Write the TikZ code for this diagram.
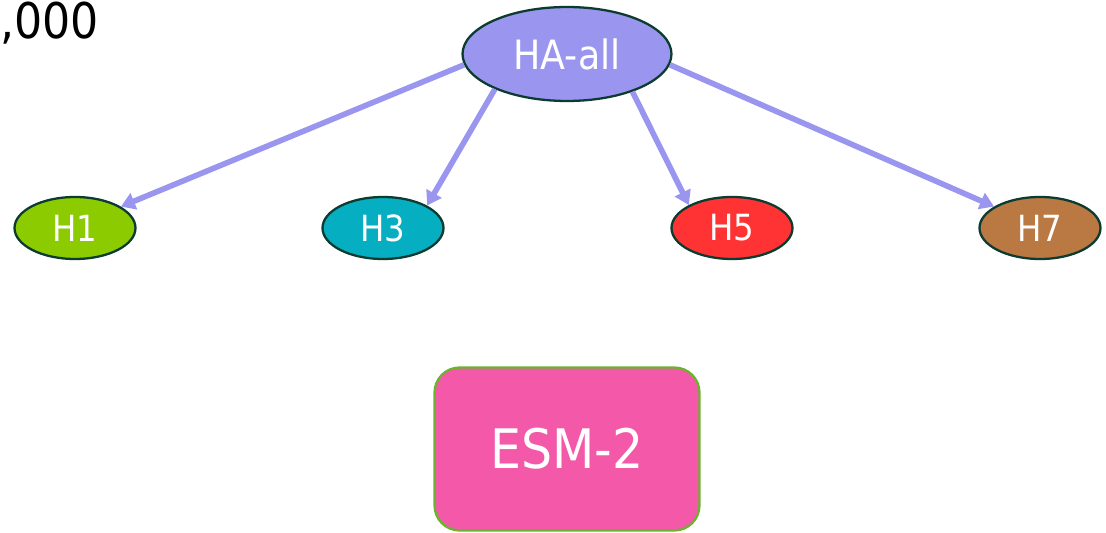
\documentclass[tikz,border=0pt]{standalone}
\usepackage{fontspec}
\setmainfont{DejaVu Sans Condensed}
\usepackage{tikz}
\usepackage{xcolor}
\usetikzlibrary{shapes,arrows.meta,positioning,shapes.geometric}
\definecolor{hall}{RGB}{154, 150, 240}
\definecolor{hone}{RGB}{139, 203, 0}
\definecolor{hthree}{RGB}{5, 174, 192}
\definecolor{hfive}{RGB}{255, 51, 51}
\definecolor{hseven}{RGB}{186, 120, 66}
\definecolor{esm}{RGB}{243, 88, 169}
\definecolor{esmline}{RGB}{106, 180, 45}
\definecolor{outline}{RGB}{12, 59, 48}
\tikzstyle{head} = [
    ellipse,
    minimum width=4.18cm,
    minimum height=1.88cm,
    inner sep=0pt,
    draw=outline,
    line width=1.3pt,
    fill=hall,
    text=white,
    font=\fontsize{23}{27}\selectfont
]
\tikzstyle{leaf} = [
    ellipse,
    minimum width=2.42cm,
    minimum height=1.24cm,
    inner sep=0pt,
    draw=outline,
    line width=1.3pt,
    text=white,
    font=\fontsize{20.5}{24}\selectfont
]
\tikzstyle{model} = [
    rectangle,
    rounded corners=0.5cm,
    minimum width=5.3cm,
    minimum height=3.26cm,
    draw=esmline,
    line width=1.3pt,
    fill=esm,
    text=white,
    font=\fontsize{31}{37}\selectfont
]
\tikzstyle{arrow} = [
    line width=3.2pt,
    -{Triangle[length=0.28cm,width=0.34cm]},
    draw=hall
]

\begin{document}
\begin{tikzpicture}[
        x=0.02cm, y=-0.02cm
    ]
        \useasboundingbox (0,0) rectangle (1106,533);
        \node[anchor=base west, inner sep=0pt, font=\fontsize{28}{32}\selectfont] (count) at (0,39) {,000};

        \node[head] (hall) at (567,54) {HA-all};
        \node[leaf, fill=hone] (h1) at (75,228) {H1};
        \node[leaf, fill=hthree] (h3) at (383,228) {H3};
        \node[leaf, fill=hfive] (h5) at (732,228) {H5};
        \node[leaf, fill=hseven] (h7) at (1040,228) {H7};
        \node[model] (esm2) at (567,449) {ESM-2};

        \draw[arrow] (hall.186) -- (h1.25);
        \draw[arrow] (hall.206) -- (h3.27);
        \draw[arrow] (hall.330) -- (h5.152);
        \draw[arrow] (hall.354) -- (h7.155);
    \end{tikzpicture}
\end{document}
